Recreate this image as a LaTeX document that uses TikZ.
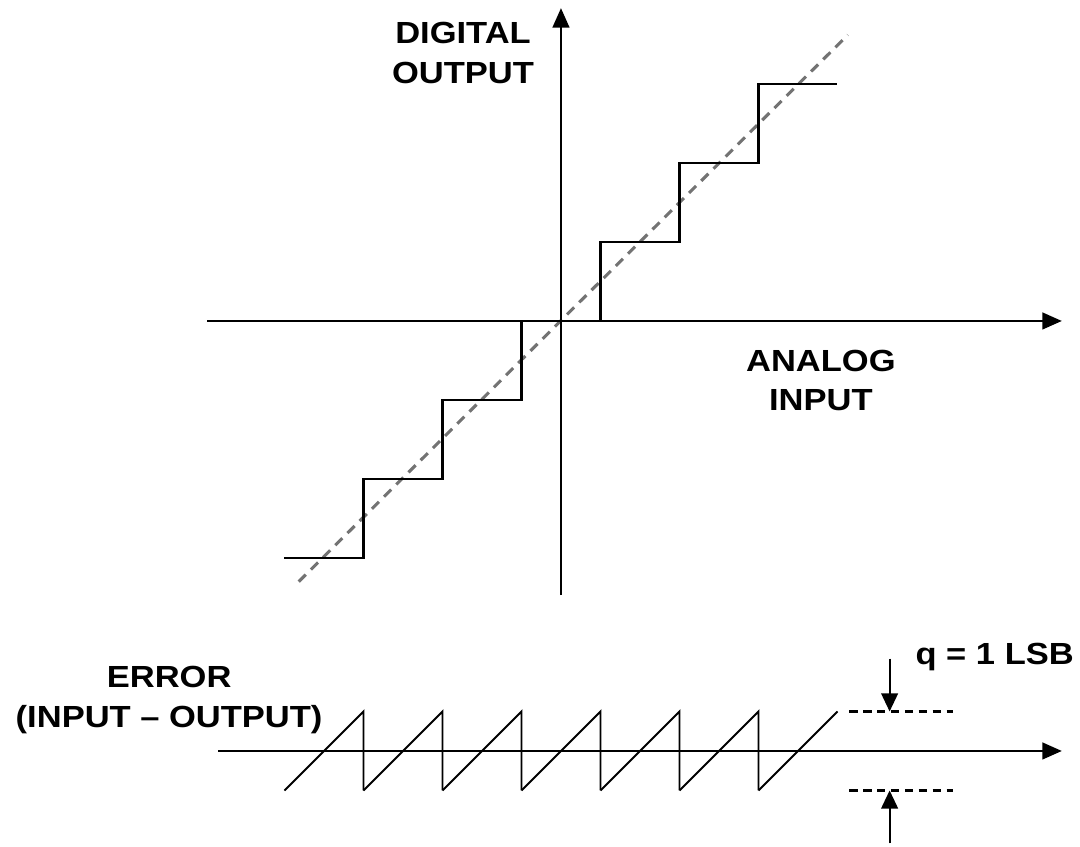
\documentclass[tikz,border=0pt]{standalone}
\usepackage{fontspec}
\setmainfont{Liberation Sans}[FakeStretch=1.13]
\usepackage{tikz}
\usetikzlibrary{arrows.meta}

\begin{document}
\begin{tikzpicture}[
  x=1cm, y=1cm,
  axis/.style={
    line width=0.8pt,
    -{Triangle[length=7pt,width=6pt]}
  },
  stair/.style={line width=0.8pt},
  ideal/.style={
    line width=1.1pt,
    draw=black!55,
    dash pattern=on 3.6pt off 2.6pt
  },
  saw/.style={line width=0.7pt},
  lsbdash/.style={line width=0.75pt,dash pattern=on 3pt off 2pt},
  lsbarrow/.style={
    line width=0.7pt,
    -{Triangle[length=6.5pt,width=6pt]}
  },
  txt/.style={
    font=\bfseries\fontsize{11}{14.2}\selectfont,
    align=center,
    inner sep=0pt
  }
]
  \useasboundingbox (-7.101,-6.646) rectangle (6.570,4.063);

  % transfer function
  \coordinate (xl) at (-4.48,0);
  \coordinate (xr) at (6.34,0);
  \coordinate (yb) at (0,-3.47);
  \coordinate (yt) at (0,3.96);

  \draw[ideal] (-3.32,-3.30) -- (3.63,3.62);
  \draw[stair] (-3.5,-3) -| (-2.5,-2) -| (-1.5,-1) -| (-0.5,0);
  \draw[stair] (0.5,0) |- (1.5,1) |- (2.5,2) |- (3.5,3);

  \draw[axis] (xl) -- (xr);
  \draw[axis] (yb) -- (yt);

  \node[txt] (dout) at (-1.24,3.39) {DIGITAL\\OUTPUT};
  \node[txt] (ain) at (3.29,-0.753) {ANALOG\\INPUT};

  % quantization error
  \begin{scope}[yshift=-5.443cm]
    \coordinate (el) at (-4.34,0);
    \coordinate (er) at (6.34,0);
    \coordinate (qtop) at (4.16,1.17);
    \coordinate (qhi) at (4.16,0.5);
    \coordinate (qbot) at (4.16,-1.17);
    \coordinate (qlo) at (4.16,-0.5);

    \foreach \k in {-3,...,2}
      \draw[saw] (\k-0.5,-0.5) -- (\k+0.5,0.5) -- (\k+0.5,-0.5);
    \draw[saw] (2.5,-0.5) -- (3.5,0.5);

    \draw[axis] (el) -- (er);

    \draw[lsbdash] (3.65,0.5) -- (4.96,0.5);
    \draw[lsbdash] (3.65,-0.5) -- (4.96,-0.5);
    \draw[lsbarrow] (qtop) -- (qhi);
    \draw[lsbarrow] (qbot) -- (qlo);
  \end{scope}

  \node[txt] (err) at (-4.96,-4.80) {ERROR\\(INPUT – OUTPUT)};
  \node[txt,anchor=base] (lsb) at (5.49,-4.35) {q = 1 LSB};
\end{tikzpicture}
\end{document}
